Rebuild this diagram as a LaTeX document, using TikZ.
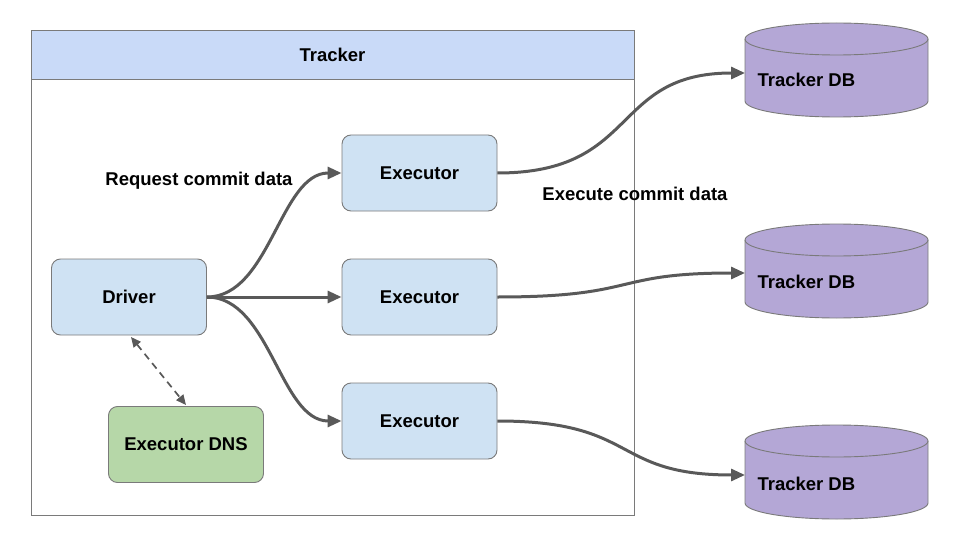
\documentclass[tikz,border=0pt]{standalone}
\usepackage{fontspec}
\setmainfont{Liberation Sans}
\usetikzlibrary{arrows.meta,shapes.geometric}
\definecolor{hdr}{HTML}{C9DAF8}
\definecolor{boxblue}{HTML}{CFE2F3}
\definecolor{boxgreen}{HTML}{B6D7A8}
\definecolor{dbpurple}{HTML}{B4A7D6}
\definecolor{edge}{HTML}{595959}
\begin{document}
\begin{tikzpicture}[x=1pt,y=-1pt,
  txt/.style={font=\fontsize{18.5}{22}\selectfont\bfseries},
  rbox/.style={draw=edge!80,line width=0.9pt,rounded corners=9pt,minimum width=155pt,minimum height=76pt,txt,inner sep=0pt},
  conn/.style={draw=edge,line width=3pt,-{Triangle[length=14pt,width=12pt]}},
  dbstyle/.style={fill=dbpurple,draw=edge!80,line width=0.9pt}]
\useasboundingbox (0,0) rectangle (960,540);
% Tracker container
\node[draw=edge!80,line width=0.9pt,minimum width=603pt,minimum height=485pt,inner sep=0pt] (tracker) at (332.5,272.5) {};
\node[draw=edge!80,line width=0.9pt,fill=hdr,minimum width=603pt,minimum height=49pt,inner sep=0pt,txt] (hdr) at (332.5,54.5) {Tracker};
% boxes
\node[rbox,fill=boxblue] (driver) at (129,297) {Driver};
\node[rbox,fill=boxgreen] (dns) at (186,444.5) {Executor DNS};
\node[rbox,fill=boxblue] (e1) at (419.5,173) {Executor};
\node[rbox,fill=boxblue] (e2) at (419.5,297) {Executor};
\node[rbox,fill=boxblue] (e3) at (419.5,421) {Executor};
% cylinders
\foreach \n/\t in {db1/23,db2/224,db3/425}{
  \path[dbstyle] (745,\t+16) -- (745,\t+78) arc[start angle=180,end angle=0,x radius=91.5,y radius=16] -- (928,\t+16) arc[start angle=0,end angle=-180,x radius=91.5,y radius=16] -- cycle;
  \draw[edge!80,line width=0.9pt] (745,\t+16) arc[start angle=180,end angle=0,x radius=91.5,y radius=16];
}
\node[txt,anchor=west] (l1) at (754,80) {Tracker DB};
\node[txt,anchor=west] (l2) at (754,282) {Tracker DB};
\node[txt,anchor=west] (l3) at (754,484) {Tracker DB};
\coordinate (db1a) at (745,73);
\coordinate (db2a) at (745,273);
\coordinate (db3a) at (745,475);
% labels
\node[txt] (req) at (199,181) {Request commit data};
\node[txt] (exe) at (635,194) {Execute commit data};
% connectors
\draw[conn] (driver.east) .. controls (270,297) and (280,173) .. (e1.west);
\draw[conn] (driver.east) -- (e2.west);
\draw[conn] (driver.east) .. controls (270,297) and (280,421) .. (e3.west);
\draw[conn] (e1.east) .. controls (640,173) and (610,73) .. (db1a);
\draw[conn] (e2.east) .. controls (640,297) and (610,273) .. (db2a);
\draw[conn] (e3.east) .. controls (640,421) and (610,475) .. (db3a);
\draw[edge,line width=1.7pt,dash pattern=on 7pt off 5pt,{Triangle[length=10pt,width=9pt]}-{Triangle[length=10pt,width=9pt]}] (131,337) -- (186,405);
\end{tikzpicture}
\end{document}
